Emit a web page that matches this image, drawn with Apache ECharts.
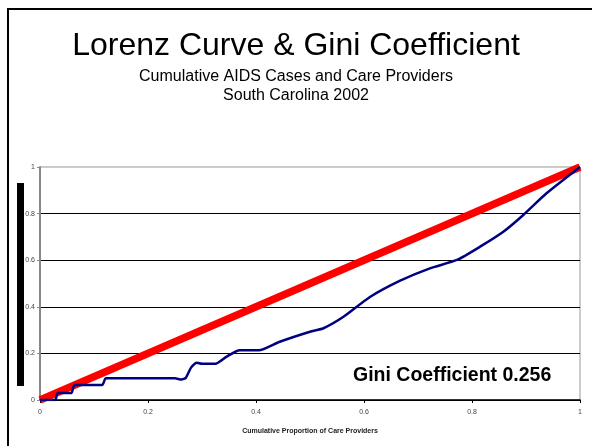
<!DOCTYPE html>
<html>
<head>
<meta charset="utf-8">
<script src="https://cdn.jsdelivr.net/npm/echarts@6/dist/echarts.min.js"></script>
<style>
  html, body { margin: 0; padding: 0; background: #fff; }
  #chart { width: 592px; height: 446px; }
</style>
</head>
<body>
<div id="chart"></div>
<script>
// cumulative proportion of care providers (x) and of AIDS cases (y)
var lorenzX = [0, 0.028, 0.033, 0.058, 0.064, 0.115, 0.122, 0.25, 0.262, 0.27, 0.28, 0.29, 0.30, 0.325, 0.345, 0.37, 0.405, 0.444, 0.50, 0.525, 0.562, 0.611, 0.667, 0.722, 0.772, 0.815, 0.858, 0.895, 0.938, 1];
var lorenzY = [0, 0, 0.03, 0.03, 0.064, 0.064, 0.093, 0.093, 0.088, 0.095, 0.14, 0.16, 0.156, 0.156, 0.185, 0.213, 0.213, 0.25, 0.293, 0.308, 0.357, 0.442, 0.512, 0.565, 0.601, 0.658, 0.722, 0.794, 0.887, 1];
// line of perfect equality
var equalX = [0, 1];
var equalY = [0, 1];
var giniText = 'Gini Coefficient 0.256';

var font = 'Arial, "Liberation Sans", sans-serif';

function pairs(xs, ys) {
  var out = [];
  for (var i = 0; i < xs.length; i++) out.push([xs[i], ys[i]]);
  return out;
}

var myChart = echarts.init(document.getElementById('chart'));

var option = {
  backgroundColor: '#fff',
  animation: false,
  title: [
    {
      text: 'Lorenz Curve & Gini Coefficient',
      subtext: 'Cumulative AIDS Cases and Care Providers\nSouth Carolina 2002',
      left: 'center',
      top: 25,
      itemGap: 5,
      textStyle: { fontFamily: font, fontSize: 32, fontWeight: 'normal', color: '#000' },
      subtextStyle: { fontFamily: font, fontSize: 16, color: '#000', lineHeight: 19 }
    },
    {
      text: giniText,
      left: 348,
      top: 361,
      textStyle: { fontFamily: font, fontSize: 19.5, fontWeight: 'bold', color: '#000' }
    }
  ],
  graphic: [
    {
      type: 'rect',
      shape: { x: 8, y: 9, width: 620, height: 500 },
      style: { fill: 'none', stroke: '#000', lineWidth: 2 },
      silent: true
    },
    {
      type: 'rect',
      shape: { x: 17, y: 183, width: 7, height: 203 },
      style: { fill: '#000' },
      silent: true
    }
  ],
  grid: {
    left: 40, right: 12, top: 167, bottom: 46,
    show: true,
    borderColor: '#999',
    borderWidth: 1
  },
  xAxis: {
    type: 'value',
    min: 0, max: 1, interval: 0.2,
    name: 'Cumulative Proportion of Care Providers',
    nameLocation: 'middle',
    nameGap: 28,
    nameTextStyle: { fontFamily: font, fontSize: 7, fontWeight: 'bold', color: '#222' },
    axisLine: { show: true, lineStyle: { color: '#000', width: 1.5 } },
    axisTick: { show: true, length: 3, lineStyle: { color: '#000' } },
    axisLabel: { fontFamily: font, fontSize: 7, color: '#444', margin: 9 },
    splitLine: { show: false }
  },
  yAxis: {
    type: 'value',
    min: 0, max: 1, interval: 0.2,
    axisLine: { show: true, lineStyle: { color: '#888', width: 2 } },
    axisTick: { show: true, length: 3, lineStyle: { color: '#888' } },
    axisLabel: { fontFamily: font, fontSize: 7, color: '#444', margin: 5 },
    splitLine: { show: true, showMaxLine: false, lineStyle: { color: '#000', width: 1 } }
  },
  series: [
    {
      name: 'Equality',
      type: 'line',
      data: pairs(equalX, equalY),
      symbol: 'none',
      lineStyle: { color: '#ff0000', width: 7.5 },
      z: 2
    },
    {
      name: 'Lorenz',
      type: 'line',
      data: pairs(lorenzX, lorenzY),
      symbol: 'none',
      smooth: 0.2,
      lineStyle: { color: '#000080', width: 2.5 },
      z: 3
    }
  ]
};

myChart.setOption(option);
</script>
</body>
</html>
